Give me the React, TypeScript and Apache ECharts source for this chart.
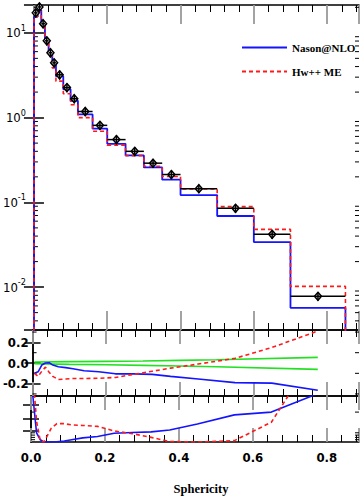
import React, { useEffect, useRef } from "react";
import * as echarts from "echarts";

// ---- data ----
const EDGES = [0, 0.01, 0.02, 0.03, 0.04, 0.05, 0.06, 0.08, 0.10, 0.12, 0.16, 0.20, 0.25, 0.30, 0.35, 0.40, 0.50, 0.60, 0.70, 0.85];
const DATA = [17.2, 20.2, 12.8, 8.05, 5.82, 4.43, 3.2, 2.26, 1.67, 1.18, 0.81, 0.55, 0.40, 0.29, 0.213, 0.145, 0.085, 0.042, 0.0078];
const DATA_ERR = [2.0, 2.4, 1.5, 0.95, 0.7, 0.52, 0.38, 0.27, 0.2, 0.14, 0.095, 0.065, 0.048, 0.035, 0.025, 0.017, 0.01, 0.005, 0.0009];
const NASON = [15.5, 18.5, 12.5, 8.05, 5.84, 4.34, 3.08, 2.16, 1.58, 1.09, 0.74, 0.49, 0.358, 0.258, 0.185, 0.122, 0.069, 0.034, 0.0057];
const HWME = [15.5, 17.6, 11.8, 7.73, 5.30, 3.85, 2.69, 1.91, 1.42, 1.00, 0.69, 0.473, 0.356, 0.267, 0.202, 0.144, 0.089, 0.048, 0.0102];

const NASON_RATIO = [-0.10, -0.085, -0.02, 0.0, 0.003, -0.02, -0.037, -0.045, -0.055, -0.075, -0.085, -0.105, -0.105, -0.11, -0.13, -0.155, -0.19, -0.195, -0.265];
const HWME_RATIO = [-0.10, -0.13, -0.08, -0.04, -0.09, -0.13, -0.16, -0.155, -0.15, -0.15, -0.148, -0.14, -0.11, -0.08, -0.05, -0.01, 0.045, 0.15, 0.31];

const BAND_X = [0.005, 0.1, 0.3, 0.5, 0.775];
const BAND_UP = [0.01, 0.013, 0.02, 0.032, 0.055];
const BAND_LO = [-0.008, -0.013, -0.023, -0.037, -0.062];

const NASON_DEV = [1.0, 0.2, 0.05, 0.0, 0.0, 0.0, 0.005, 0.02, 0.05, 0.09, 0.12, 0.19, 0.205, 0.22, 0.26, 0.39, 0.59, 0.65, 1.05];
const HWME_DEV = [1.5, 0.45, 0.03, 0.0, 0.15, 0.30, 0.40, 0.40, 0.37, 0.36, 0.34, 0.24, 0.18, 0.10, 0.01, 0.0, 0.03, 0.43, 2.0];

const X_TICK_LABELS_INTERVAL = 0.2;
const SERIES_NAMES = ["Nason@NLO", "Hw++ ME"];
const X_NAME = "Sphericity";

// ---- layout / style constants ----
const XMAX = 0.887;
const YMIN = 0.00312;
const YMAX = 21.3;
const RMIN = -0.32;
const RMAX = 0.32;
const BLUE = "#1414ff";
const RED = "#ff1a1a";
const GREEN = "#22e022";
const NARROW = "'Liberation Sans Narrow', 'DejaVu Sans Condensed', 'Roboto Condensed', 'Liberation Sans', sans-serif";
const SERIF = "'Liberation Serif', 'DejaVu Serif', serif";

const centers = EDGES.slice(0, -1).map((e, i) => (e + EDGES[i + 1]) / 2);

function stepLine(vals: number[], floor: number) {
  const pts: number[][] = [[EDGES[0], floor]];
  vals.forEach((v, i) => {
    pts.push([EDGES[i], v]);
    pts.push([EDGES[i + 1], v]);
  });
  pts.push([EDGES[EDGES.length - 1], floor]);
  return pts;
}

function tickSeries(xIdx: number, yIdx: number, vals: number[], len: number) {
  return {
    type: "custom",
    xAxisIndex: xIdx,
    yAxisIndex: yIdx,
    silent: true,
    clip: false,
    data: vals.map((v) => [0, v]),
    encode: { x: 0, y: 1 },
    renderItem: (params: any, api: any) => {
      const v = api.value(1);
      const a = api.coord([0, v]);
      const b = api.coord([XMAX, v]);
      return {
        type: "group",
        children: [
          { type: "line", shape: { x1: a[0], y1: a[1], x2: a[0] + len, y2: a[1] }, style: { stroke: "#000", lineWidth: 1 } },
          { type: "line", shape: { x1: b[0] - len, y1: b[1], x2: b[0], y2: b[1] }, style: { stroke: "#000", lineWidth: 1 } },
        ],
      };
    },
  };
}

function xAxes(g: number, majorLen: number, labels: boolean) {
  const base = {
    type: "value",
    gridIndex: g,
    min: 0,
    max: XMAX,
    interval: X_TICK_LABELS_INTERVAL,
    axisLine: { show: true, onZero: false, lineStyle: { color: "#000", width: 1.5 } },
    axisTick: { show: true, inside: true, length: majorLen, lineStyle: { color: "#999", width: 1.8 } },
    minorTick: { show: true, splitNumber: 5, length: 7, lineStyle: { color: "#000", width: 1 } },
    splitLine: { show: false },
  };
  return [
    {
      ...base,
      position: "bottom",
      axisLabel: labels
        ? { show: true, margin: 9, fontFamily: NARROW, fontWeight: "bold", fontSize: 13, color: "#000", formatter: (v: number) => v.toFixed(1), showMaxLabel: false }
        : { show: false },
      ...(labels
        ? {
            name: X_NAME,
            nameLocation: "middle",
            nameGap: 40,
            nameTextStyle: { fontFamily: SERIF, fontWeight: "bold", fontSize: 12.5, color: "#000", padding: [0, 0, 0, 12] },
          }
        : {}),
    },
    { ...base, position: "top", axisLabel: { show: false } },
  ];
}

export default function App() {
  const ref = useRef<HTMLDivElement>(null);
  useEffect(() => {
    if (!ref.current) return;
    const chart = echarts.init(ref.current, null, { renderer: "svg" });

    const logMinor: number[] = [];
    for (let k = -3; k <= 1; k++) {
      for (let m = 2; m <= 9; m++) {
        const v = m * Math.pow(10, k);
        if (v > YMIN && v < YMAX) logMinor.push(v);
      }
    }

    const logLabel = (v: number) => {
      const l = Math.log10(v);
      const e = Math.round(l);
      if (Math.abs(l - e) > 1e-6) return "";
      return `{b|10}{s|${e}}`;
    };

    const yLogBase = {
      type: "log",
      logBase: 10,
      gridIndex: 0,
      min: YMIN,
      max: YMAX,
      axisLine: { show: true, lineStyle: { color: "#000", width: 1.5 } },
      axisTick: { show: true, inside: true, length: 10, lineStyle: { color: "#000", width: 1.5 } },
      splitLine: { show: false },
    };
    const yRatioBase = {
      type: "value",
      gridIndex: 1,
      min: RMIN,
      max: RMAX,
      axisLine: { show: true, lineStyle: { color: "#000", width: 1.5 } },
      axisTick: { show: true, inside: true, length: 8, customValues: [-0.2, 0, 0.2], lineStyle: { color: "#000", width: 1.5 } },
      splitLine: { show: false },
    };
    const yDevBase = {
      type: "value",
      gridIndex: 2,
      min: 0,
      max: 1,
      axisLine: { show: true, lineStyle: { color: "#000", width: 1.5 } },
      axisTick: { show: true, inside: true, length: 8, customValues: [0.25, 0.5, 0.8], lineStyle: { color: "#000", width: 1.5 } },
      axisLabel: { show: false },
      splitLine: { show: false },
    };

    const option: any = {
      animation: false,
      backgroundColor: "#fff",
      grid: [
        { left: 31, right: 5, top: 5, height: 325 },
        { left: 31, right: 5, top: 330, height: 66 },
        { left: 31, right: 5, top: 396, height: 46 },
      ],
      legend: {
        data: SERIES_NAMES,
        orient: "vertical",
        left: 236,
        top: 37,
        itemWidth: 45,
        itemHeight: 12,
        itemGap: 13,
        itemStyle: { opacity: 0 },
        textStyle: { fontFamily: SERIF, fontWeight: "bold", fontSize: 11, color: "#000" },
      },
      xAxis: [...xAxes(0, 19, false), ...xAxes(1, 14, false), ...xAxes(2, 14, true)],
      yAxis: [
        {
          ...yLogBase,
          position: "left",
          axisLabel: {
            show: true,
            margin: 8,
            showMinLabel: false,
            showMaxLabel: false,
            formatter: logLabel,
            rich: {
              b: { fontFamily: NARROW, fontSize: 13, lineHeight: 13, verticalAlign: "bottom", color: "#000" },
              s: { fontFamily: NARROW, fontSize: 9, lineHeight: 9, padding: [0, 0, 7, 0], verticalAlign: "bottom", color: "#000" },
            },
          },
        },
        { ...yLogBase, position: "right", axisLabel: { show: false } },
        {
          ...yRatioBase,
          position: "left",
          axisLabel: {
            show: true,
            margin: 4,
            customValues: [-0.2, 0, 0.2],
            formatter: (v: number) => v.toFixed(1),
            fontFamily: NARROW,
            fontWeight: "bold",
            fontSize: 13,
            color: "#000",
          },
        },
        { ...yRatioBase, position: "right", axisLabel: { show: false } },
        { ...yDevBase, position: "left" },
        { ...yDevBase, position: "right" },
      ],
      series: [
        {
          type: "line",
          name: SERIES_NAMES[0],
          xAxisIndex: 0,
          yAxisIndex: 0,
          data: stepLine(NASON, 1e-4),
          symbol: "none",
          clip: true,
          lineStyle: { color: BLUE, width: 1.8 },
          itemStyle: { color: BLUE },
          z: 3,
        },
        {
          type: "line",
          name: SERIES_NAMES[1],
          xAxisIndex: 0,
          yAxisIndex: 0,
          data: stepLine(HWME, 1e-4),
          symbol: "none",
          clip: true,
          lineStyle: { color: RED, width: 1.6, type: [4, 3] },
          itemStyle: { color: RED },
          z: 4,
        },
        {
          type: "custom",
          name: "Data",
          xAxisIndex: 0,
          yAxisIndex: 0,
          z: 5,
          data: DATA.map((v, i) => [EDGES[i], EDGES[i + 1], v, DATA_ERR[i]]),
          encode: { x: [0, 1], y: 2 },
          renderItem: (params: any, api: any) => {
            const lo = api.value(0);
            const hi = api.value(1);
            const y = api.value(2);
            const e = api.value(3);
            const mid = (lo + hi) / 2;
            const pl = api.coord([lo, y]);
            const ph = api.coord([hi, y]);
            const pc = api.coord([mid, y]);
            const pt = api.coord([mid, y + e]);
            const pb = api.coord([mid, y - e]);
            const s = 3.5;
            return {
              type: "group",
              children: [
                {
                  type: "polygon",
                  shape: { points: [[pc[0], pc[1] - s - 0.5], [pc[0] + s, pc[1]], [pc[0], pc[1] + s + 0.5], [pc[0] - s, pc[1]]] },
                  style: { fill: "#fff", stroke: "#000", lineWidth: 1.5 },
                },
                { type: "line", shape: { x1: pl[0], y1: pl[1], x2: ph[0], y2: ph[1] }, style: { stroke: "#000", lineWidth: 1.5 } },
                { type: "line", shape: { x1: pt[0], y1: pt[1], x2: pb[0], y2: pb[1] }, style: { stroke: "#000", lineWidth: 1.5 } },
              ],
            };
          },
        },
        tickSeries(0, 0, logMinor, 4),
        {
          type: "line",
          name: "band+",
          xAxisIndex: 2,
          yAxisIndex: 2,
          data: BAND_X.map((x, i) => [x, BAND_UP[i]]),
          symbol: "none",
          smooth: true,
          lineStyle: { color: GREEN, width: 1.6 },
        },
        {
          type: "line",
          name: "band-",
          xAxisIndex: 2,
          yAxisIndex: 2,
          data: BAND_X.map((x, i) => [x, BAND_LO[i]]),
          symbol: "none",
          smooth: true,
          lineStyle: { color: GREEN, width: 1.6 },
        },
        {
          type: "line",
          name: "Nason@NLO ratio",
          xAxisIndex: 2,
          yAxisIndex: 2,
          data: centers.map((x, i) => [x, NASON_RATIO[i]]),
          symbol: "none",
          clip: true,
          lineStyle: { color: BLUE, width: 1.6 },
        },
        {
          type: "line",
          name: "Hw++ ME ratio",
          xAxisIndex: 2,
          yAxisIndex: 2,
          data: centers.map((x, i) => [x, HWME_RATIO[i]]),
          symbol: "none",
          clip: true,
          lineStyle: { color: RED, width: 1.6, type: [4, 3] },
        },
        tickSeries(2, 2, [-0.3, -0.1, 0.1, 0.3], 4),
        {
          type: "line",
          name: "Nason@NLO dev",
          xAxisIndex: 4,
          yAxisIndex: 4,
          data: centers.map((x, i) => [x, NASON_DEV[i]]),
          symbol: "none",
          clip: true,
          lineStyle: { color: BLUE, width: 1.6 },
        },
        {
          type: "line",
          name: "Hw++ ME dev",
          xAxisIndex: 4,
          yAxisIndex: 4,
          data: centers.map((x, i) => [x, HWME_DEV[i]]),
          symbol: "none",
          clip: true,
          lineStyle: { color: RED, width: 1.6, type: [4, 3] },
        },
        tickSeries(4, 4, [0.05, 0.1, 0.15, 0.2, 0.65], 4),
      ],
    };

    chart.setOption(option);
    return () => chart.dispose();
  }, []);

  return <div ref={ref} style={{ position: "absolute", left: 0, top: 0, width: 364, height: 503 }} />;
}
